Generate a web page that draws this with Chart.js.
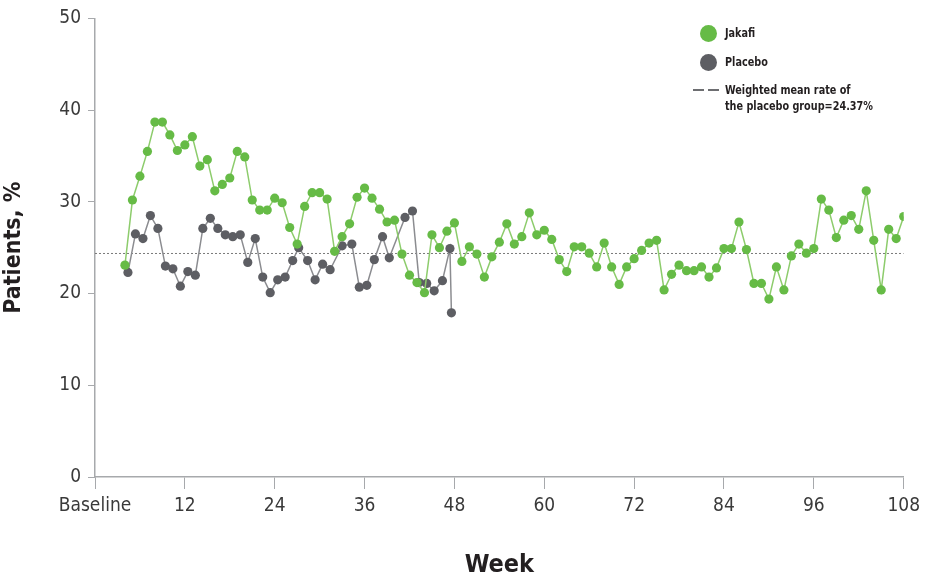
<!DOCTYPE html>
<html>
<head>
<meta charset="utf-8">
<script src="https://cdn.jsdelivr.net/npm/chart.js@4"></script>
<style>
  html, body { margin: 0; padding: 0; background: #fff; }
  #wrap { position: relative; width: 926px; height: 580px; }
  #legend { position: absolute; left: 0; top: 0; font-family: "Liberation Sans Narrow", "DejaVu Sans Condensed", "Roboto", sans-serif; font-weight: bold; font-size: 12.5px; color: #231f20; }
  .item { position: absolute; white-space: nowrap; line-height: 16px; transform: scaleX(0.86); transform-origin: left center; }
  .dot { position: absolute; width: 17px; height: 17px; border-radius: 50%; }
  .dash { position: absolute; height: 2px; width: 11px; background: #6d6e71; }
</style>
</head>
<body>
<div id="wrap">
  <canvas id="patientsChart" width="926" height="580"></canvas>
  <div id="legend">
    <div class="dot" style="left:700px; top:25px; background:#66bb46;"></div>
    <div class="item" style="left:725px; top:25px;">Jakafi</div>
    <div class="dot" style="left:700px; top:54px; background:#5d5e63;"></div>
    <div class="item" style="left:725px; top:54px;">Placebo</div>
    <div class="dash" style="left:693px; top:89px;"></div>
    <div class="dash" style="left:708px; top:89px;"></div>
    <div class="item" style="left:725px; top:82px;">Weighted mean rate of<br>the placebo group=24.37%</div>
  </div>
</div>
<script>
// Weeks on study for each group
const jakafiWeeks = [
  4, 5, 6, 7, 8, 9, 10, 11, 12, 13, 14, 15, 16, 17, 18, 19, 20, 21, 22, 23,
  24, 25, 26, 27, 28, 29, 30, 31, 32, 33, 34, 35, 36, 37, 38, 39, 40, 41, 42, 43,
  44, 45, 46, 47, 48, 49, 50, 51, 52, 53, 54, 55, 56, 57, 58, 59, 60, 61, 62, 63,
  64, 65, 66, 67, 68, 69, 70, 71, 72, 73, 74, 75, 76, 77, 78, 79, 80, 81, 82, 83,
  84, 85, 86, 87, 88, 89, 90, 91, 92, 93, 94, 95, 96, 97, 98, 99, 100, 101, 102, 103,
  104, 105, 106, 107, 108,
];
const jakafiValues = [
  23.1, 30.2, 32.8, 35.5, 38.7, 38.7, 37.3, 35.6, 36.2, 37.1, 33.9, 34.6, 31.2, 31.9, 32.6, 35.5, 34.9, 30.2, 29.1, 29.1,
  30.4, 29.9, 27.2, 25.4, 29.5, 31.0, 31.0, 30.3, 24.6, 26.2, 27.6, 30.5, 31.5, 30.4, 29.2, 27.8, 28.0, 24.3, 22.0, 21.2,
  20.1, 26.4, 25.0, 26.8, 27.7, 23.5, 25.1, 24.3, 21.8, 24.0, 25.6, 27.6, 25.4, 26.2, 28.8, 26.4, 26.9, 25.9, 23.7, 22.4,
  25.1, 25.1, 24.4, 22.9, 25.5, 22.9, 21.0, 22.9, 23.8, 24.7, 25.5, 25.8, 20.4, 22.1, 23.1, 22.5, 22.5, 22.9, 21.8, 22.8,
  24.9, 24.9, 27.8, 24.8, 21.1, 21.1, 19.4, 22.9, 20.4, 24.1, 25.4, 24.4, 24.9, 30.3, 29.1, 26.1, 28.0, 28.5, 27.0, 31.2,
  25.8, 20.4, 27.0, 26.0, 28.4,
];

// placebo dots sit a little to the right of the Jakafi ones
const placeboWeeks = [
  4.4, 5.4, 6.4, 7.4, 8.4, 9.4, 10.4, 11.4, 12.4, 13.4, 14.4, 15.4, 16.4, 17.4, 18.4, 19.4, 20.4, 21.4, 22.4, 23.4,
  24.4, 25.4, 26.4, 27.2, 28.4, 29.4, 30.4, 31.4, 33.0, 34.3, 35.3, 36.3, 37.3, 38.4, 39.3, 41.4, 42.4, 43.3, 44.3, 45.3,
  46.4, 47.4, 47.6,
];
const placeboValues = [
  22.3, 26.5, 26.0, 28.5, 27.1, 23.0, 22.7, 20.8, 22.4, 22.0, 27.1, 28.2, 27.1, 26.4, 26.2, 26.4, 23.4, 26.0, 21.8, 20.1,
  21.5, 21.8, 23.6, 25.0, 23.6, 21.5, 23.2, 22.6, 25.2, 25.4, 20.7, 20.9, 23.7, 26.2, 23.9, 28.3, 29.0, 21.2, 21.1, 20.3,
  21.4, 24.9, 17.9,
];

// Weighted mean rate of the placebo group
const placeboMean = 24.37;

const xTicks = [0, 12, 24, 36, 48, 60, 72, 84, 96, 108];
const yTicks = [0, 10, 20, 30, 40, 50];

const axisFont = "'Liberation Sans Narrow', 'DejaVu Sans Condensed', Roboto, sans-serif";

// Function to pair weeks with values for a linear x axis
function toPoints(weeks, values) {
  return weeks.map((week, i) => ({ x: week, y: values[i] }));
}

function drawPatientsChart() {
  new Chart(document.getElementById("patientsChart"), {
    type: "line",
    data: {
      datasets: [
        {
          label: "Jakafi",
          data: toPoints(jakafiWeeks, jakafiValues),
          borderColor: "#8dcc6c",
          borderWidth: 1.5,
          backgroundColor: "#66bb46",
          pointBackgroundColor: "#66bb46",
          pointBorderWidth: 0,
          pointRadius: 4.6,
          tension: 0,
        },
        {
          label: "Placebo",
          data: toPoints(placeboWeeks, placeboValues),
          borderColor: "#8b8c90",
          borderWidth: 1.5,
          backgroundColor: "#5d5e63",
          pointBackgroundColor: "#5d5e63",
          pointBorderWidth: 0,
          pointRadius: 4.6,
          tension: 0,
        },
        {
          label: "Weighted mean",
          data: [
            { x: xTicks[0], y: placeboMean },
            { x: xTicks[xTicks.length - 1], y: placeboMean },
          ],
          borderColor: "#7a7a7a",
          borderWidth: 1,
          borderDash: [2, 2],
          pointRadius: 0,
        },
      ],
    },
    options: {
      responsive: false,
      animation: false,
      layout: { padding: { top: 12, right: 20, left: 0, bottom: 0 } },
      plugins: {
        legend: { display: false },
        tooltip: { enabled: false },
      },
      scales: {
        x: {
          type: "linear",
          min: xTicks[0],
          max: xTicks[xTicks.length - 1],
          afterBuildTicks: (scale) => {
            scale.ticks = xTicks.map((v) => ({ value: v }));
          },
          afterFit: (scale) => {
            scale.height = 103;
          },
          border: { color: "#a7a9ac", width: 1.5 },
          grid: {
            drawOnChartArea: false,
            drawTicks: true,
            tickLength: 12,
            color: "#a7a9ac",
          },
          ticks: {
            padding: 6,
            color: "#3a3a3a",
            font: { family: axisFont, size: 19 },
            maxRotation: 0,
            callback: (value) => (value === 0 ? "Baseline" : value),
          },
          title: {
            display: true,
            text: "Week",
            color: "#231f20",
            font: { family: axisFont, size: 25, weight: "bold" },
            padding: { top: 22, bottom: 0 },
          },
        },
        y: {
          min: yTicks[0],
          max: yTicks[yTicks.length - 1],
          afterBuildTicks: (scale) => {
            scale.ticks = yTicks.map((v) => ({ value: v }));
          },
          afterFit: (scale) => {
            scale.width = 95;
          },
          border: { color: "#a7a9ac", width: 1.5 },
          grid: {
            drawOnChartArea: false,
            drawTicks: true,
            tickLength: 7,
            color: "#a7a9ac",
          },
          ticks: {
            padding: 7,
            color: "#3a3a3a",
            font: { family: axisFont, size: 19 },
          },
          title: {
            display: true,
            text: "Patients, %",
            color: "#231f20",
            font: { family: axisFont, size: 23, weight: "bold" },
            padding: { top: 0, bottom: 0 },
          },
        },
      },
    },
  });
}

window.onload = drawPatientsChart;
</script>
</body>
</html>
